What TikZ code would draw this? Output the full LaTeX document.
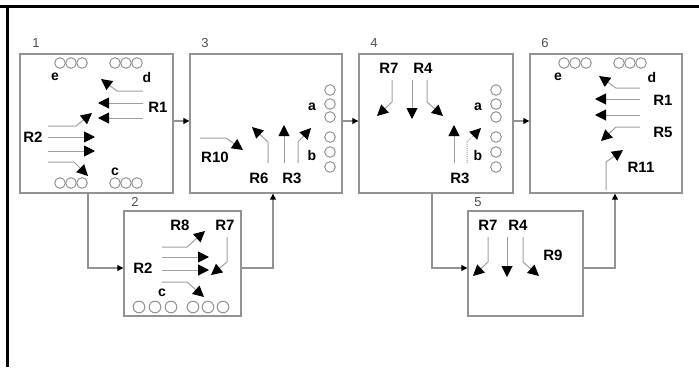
\documentclass[tikz,border=0pt]{standalone}
\usepackage{fontspec}
\setmainfont{Liberation Sans}
\usetikzlibrary{arrows.meta,positioning}
\tikzset{
  stagebox/.style={rectangle, draw=gray!85, line width=1.4pt, inner sep=0pt},
  stagenum/.style={text=gray!60!black, font=\fontsize{13}{13}\selectfont, inner sep=0pt},
  rxnlbl/.style={font=\bfseries\fontsize{15}{15}\selectfont, inner sep=0pt},
  sitelbl/.style={font=\bfseries\fontsize{14}{14}\selectfont, inner sep=0pt},
  rxn/.style={draw=gray!75, line width=1pt, -{Triangle[color=black, length=11pt, width=11pt]}},
  flowarrow/.style={draw=gray!85, line width=1.2pt, -{Triangle[color=black, length=6pt, width=6pt]}},
  site/.style={draw=gray!85, line width=1pt}
}

\begin{document}
\begin{tikzpicture}[x=1pt, y=-1pt]
\useasboundingbox (0,0) rectangle (699,367);
% outer frame
\draw[line width=3pt] (0,6) -- (699,6);
\draw[line width=3pt] (7.5,6) -- (7.5,367);

% stages
\node[stagebox, minimum width=153pt, minimum height=139pt] (s1) at (96.5,123.5) {};
\node[stagebox, minimum width=152pt, minimum height=139pt] (s3) at (266,123.5) {};
\node[stagebox, minimum width=154pt, minimum height=139pt] (s4) at (436,123.5) {};
\node[stagebox, minimum width=152pt, minimum height=139pt] (s6) at (606,123.5) {};
\node[stagebox, minimum width=117pt, minimum height=105pt] (s2) at (182.5,263.5) {};
\node[stagebox, minimum width=115pt, minimum height=105pt] (s5) at (525.5,263.5) {};

\node[stagenum] (n1) at (36,43) {1};
\node[stagenum] (n3) at (205,43) {3};
\node[stagenum] (n4) at (374,43) {4};
\node[stagenum] (n6) at (545,43) {6};
\node[stagenum] (n2) at (135,202) {2};
\node[stagenum] (n5) at (478,202) {5};

% flow between stages
\draw[flowarrow] ([yshift=2.5pt]s1.east) -- ([yshift=2.5pt]s3.west);
\draw[flowarrow] ([yshift=2.5pt]s3.east) -- ([yshift=2.5pt]s4.west);
\draw[flowarrow] ([yshift=2.5pt]s4.east) -- ([yshift=2.5pt]s6.west);
\draw[flowarrow] ([xshift=-8.5pt]s1.south) |- ([yshift=-4.5pt]s2.west);
\draw[flowarrow] ([yshift=-4.5pt]s2.east) -| ([xshift=7pt]s3.south);
\draw[flowarrow] ([xshift=-4pt]s4.south) |- ([yshift=-4.5pt]s5.west);
\draw[flowarrow] ([yshift=-4.5pt]s5.east) -| ([xshift=9pt]s6.south);

% stage 1
\foreach \x in {60,71,82,115,126,137} {
  \draw[site] (\x,63) circle[radius=5.3pt];
  \draw[site] (\x,183) circle[radius=5.3pt];
}
\node[sitelbl] (e1) at (55,77) {e};
\node[sitelbl] (d1) at (147,77) {d};
\node[sitelbl] (c1) at (115,172) {c};
\node[rxnlbl] (r1s1) at (158,107) {R1};
\node[rxnlbl] (r2s1) at (33,137) {R2};
\draw[rxn] (143,91) -- (117,91) -- (101,79);
\draw[rxn] (143,103) -- (98,103);
\draw[rxn] (143,118) -- (98,118);
\draw[rxn] (48,126) -- (76,126) -- (92,113);
\draw[rxn] (48,137) -- (95,137);
\draw[rxn] (48,151) -- (95,151);
\draw[rxn] (48,162) -- (74,162) -- (88,176);

% stage 3
\foreach \y in {90,104,117,137,152,167}
  \draw[site] (330,\y) circle[radius=5.3pt];
\node[sitelbl] (a3) at (312,107) {a};
\node[sitelbl] (b3) at (312,155) {b};
\node[rxnlbl] (r10s3) at (215,157) {R10};
\node[rxnlbl] (r6s3) at (259,178) {R6};
\node[rxnlbl] (r3s3) at (292,178) {R3};
\draw[rxn] (200,138) -- (226,138) -- (243,150);
\draw[rxn] (268,163) -- (268,142) -- (252,127);
\draw[rxn] (284,163) -- (284,125);
\draw[rxn] (298,163) -- (298,142) -- (311,128);

% stage 4
\foreach \y in {90,104,117,137,152,167}
  \draw[site] (496,\y) circle[radius=5.3pt];
\node[sitelbl] (a4) at (478,107) {a};
\node[sitelbl] (b4) at (478,155) {b};
\node[rxnlbl] (r7s4) at (389,68) {R7};
\node[rxnlbl] (r4s4) at (423,68) {R4};
\node[rxnlbl] (r3s4) at (460,178) {R3};
\draw[rxn] (392,80) -- (392,102) -- (377,116);
\draw[rxn] (412,80) -- (412,119);
\draw[rxn] (427,80) -- (427,102) -- (443,116);
\draw[rxn] (454,163) -- (454,125);
\draw[rxn, densely dotted] (467,163) -- (467,142) -- (481,128);

% stage 6
\foreach \x in {564,575,586,619,630,641}
  \draw[site] (\x,63) circle[radius=5.3pt];
\node[sitelbl] (e6) at (558,77) {e};
\node[sitelbl] (d6) at (652,77) {d};
\node[rxnlbl] (r1s6) at (663,100) {R1};
\node[rxnlbl] (r5s6) at (663,132) {R5};
\node[rxnlbl] (r11s6) at (641,167) {R11};
\draw[rxn] (640,88) -- (616,88) -- (599,76);
\draw[rxn] (640,99) -- (595,99);
\draw[rxn] (640,115) -- (595,115);
\draw[rxn] (640,127) -- (616,127) -- (601,141);
\draw[rxn] (606,190) -- (606,162) -- (623,150);

% stage 2
\foreach \x in {139,155,171,193,208,223}
  \draw[site] (\x,307) circle[radius=5.8pt];
\node[sitelbl] (c2) at (162,293) {c};
\node[rxnlbl] (r8s2) at (180,225) {R8};
\node[rxnlbl] (r7s2) at (225,225) {R7};
\node[rxnlbl] (r2s2) at (143,268) {R2};
\draw[rxn] (162,247) -- (187,247) -- (205,231);
\draw[rxn] (162,257) -- (209,257);
\draw[rxn] (162,270) -- (209,270);
\draw[rxn] (162,282) -- (187,282) -- (204,297);
\draw[rxn] (227,237) -- (227,262) -- (211,275);

% stage 5
\node[rxnlbl] (r7s5) at (488,225) {R7};
\node[rxnlbl] (r4s5) at (518,225) {R4};
\node[rxnlbl] (r9s5) at (553,255) {R9};
\draw[rxn] (488,237) -- (488,262) -- (473,276);
\draw[rxn] (507,237) -- (507,277);
\draw[rxn] (523,237) -- (523,262) -- (539,276);
\end{tikzpicture}
\end{document}
